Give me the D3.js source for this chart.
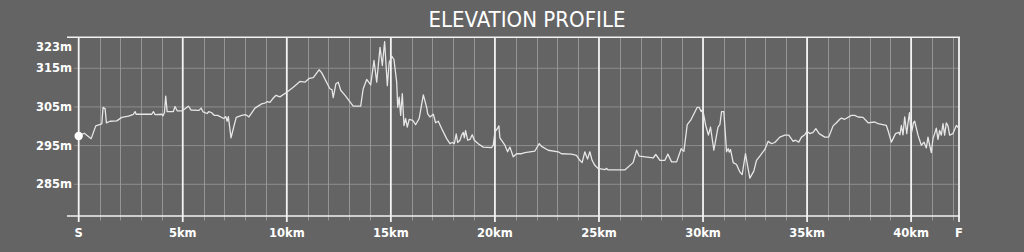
<!DOCTYPE html>
<html><head><meta charset="utf-8">
<script src="https://cdn.jsdelivr.net/npm/d3@7"></script>
<style>
html,body{margin:0;padding:0;background:#646464;}
svg{display:block;}
</style></head>
<body>
<svg id="chart" width="1024" height="252"></svg>
<script>
const title = "ELEVATION PROFILE";
const distanceKm = [0.0,0.27,0.60,0.82,1.11,1.17,1.27,1.33,1.51,1.83,2.07,2.39,2.63,2.71,2.76,3.51,3.59,3.67,3.99,4.05,4.12,4.18,4.25,4.55,4.63,4.73,4.98,5.27,5.40,5.78,5.88,5.98,6.17,6.26,6.39,6.52,6.68,6.97,7.07,7.13,7.19,7.32,7.43,7.57,7.83,8.03,8.18,8.47,8.79,8.95,9.06,9.19,9.32,9.48,9.67,10.00,10.31,10.63,10.87,11.08,11.27,11.55,11.68,12.07,12.17,12.23,12.36,12.47,12.59,12.80,13.19,13.55,13.67,13.84,14.03,14.19,14.32,14.48,14.59,14.70,14.83,14.92,15.05,15.15,15.28,15.33,15.40,15.47,15.55,15.63,15.71,15.79,15.88,16.05,16.19,16.36,16.56,16.72,16.77,16.88,17.04,17.15,17.28,17.44,17.68,17.84,17.95,18.05,18.14,18.21,18.32,18.40,18.48,18.53,18.59,18.69,18.80,18.91,19.01,19.20,19.44,19.84,19.92,20.00,20.13,20.19,20.24,20.48,20.61,20.72,20.88,21.04,21.28,21.44,21.92,22.13,22.24,22.56,23.04,23.20,23.68,23.92,24.08,24.19,24.32,24.45,24.56,24.67,24.80,24.96,25.28,25.37,25.44,26.24,26.64,26.81,26.93,27.60,27.73,27.93,28.17,28.31,28.49,28.73,28.95,29.08,29.24,29.40,29.59,29.72,29.81,29.91,29.98,30.13,30.26,30.36,30.52,30.72,30.81,30.89,31.00,31.13,31.21,31.26,31.32,31.45,31.61,31.77,31.88,32.04,32.15,32.25,32.44,32.57,32.73,32.97,33.13,33.29,33.45,33.69,33.93,34.12,34.33,34.44,34.60,34.73,34.89,34.99,35.13,35.29,35.42,35.58,35.85,36.04,36.25,36.41,36.57,36.65,36.81,37.13,37.29,37.45,37.69,37.93,38.25,38.41,38.81,38.89,39.05,39.25,39.41,39.46,39.53,39.61,39.69,39.79,39.85,39.92,40.00,40.04,40.11,40.17,40.33,40.49,40.62,40.73,40.81,40.89,40.97,41.05,41.13,41.21,41.29,41.37,41.45,41.53,41.61,41.69,41.77,41.85,42.01,42.17,42.28];
const elevationM = [297.5,298.2,296.8,300.1,300.6,304.9,304.5,300.9,301.3,301.4,302.3,302.6,303.1,303.8,303.1,303.1,303.8,303.0,303.1,302.7,303.5,307.8,303.8,303.8,305.1,304.0,304.0,305.2,304.2,304.1,304.7,303.7,303.3,303.8,303.5,302.8,302.8,302.0,302.5,301.3,302.5,297.0,299.4,302.3,302.8,303.0,302.4,304.7,305.8,306.0,306.4,306.2,307.1,308.0,307.6,308.8,310.1,311.6,311.4,312.4,312.6,314.6,313.8,309.7,309.5,307.4,311.0,311.4,309.3,308.0,305.2,305.2,309.7,312.1,310.7,317.0,311.4,320.4,315.7,321.9,310.5,316.5,318.1,317.2,311.4,304.9,307.5,302.8,308.4,300.2,302.0,299.8,301.8,301.5,300.4,302.0,308.1,304.9,303.2,302.4,303.1,300.9,301.3,299.4,296.8,295.5,295.8,295.5,298.0,295.8,296.4,297.7,298.4,297.0,298.9,296.4,296.6,297.8,296.4,295.5,294.6,294.5,295.1,298.5,299.5,300.1,297.0,295.1,293.4,294.6,292.1,292.9,292.9,293.2,293.6,295.5,294.8,293.8,293.4,292.9,292.8,292.5,291.2,290.6,293.4,291.5,293.4,291.2,289.9,289.1,288.8,289.1,288.7,288.7,290.6,293.8,292.3,291.8,292.7,291.2,291.2,292.8,290.8,290.8,294.2,293.5,300.4,301.5,303.5,304.9,304.9,303.8,304.4,300.2,297.7,299.8,293.8,299.8,300.4,303.8,303.8,293.4,294.2,293.3,294.0,290.6,290.1,288.2,287.5,292.9,289.5,286.6,288.4,291.2,292.3,294.0,296.1,295.5,295.8,297.2,297.7,297.7,296.1,296.4,295.9,297.2,297.8,298.7,298.1,298.4,299.4,298.1,297.2,297.2,300.1,300.9,301.8,302.1,301.8,302.8,302.8,302.4,302.3,300.9,301.1,300.7,300.2,298.9,295.9,298.1,298.4,297.8,300.2,297.8,302.4,298.1,300.9,303.5,298.1,298.9,300.9,301.3,297.7,295.1,295.9,294.4,297.2,295.1,293.2,296.8,298.1,299.5,296.6,298.9,297.7,300.7,297.7,300.9,300.1,297.7,298.1,300.2,299.6];
const yGridValues = [285, 295, 305, 315];
const yTopValue = 323;
const yMinValue = 276.8;
const finishKm = 42.3;
const xMajorValues = [0, 5, 10, 15, 20, 25, 30, 35, 40, 42.3];
const xMajorLabels = ["S", "5km", "10km", "15km", "20km", "25km", "30km", "35km", "40km", "F"];
const xMinorValues = d3.range(1, 43).filter(v => v % 5 !== 0);

(function () {
const svg = d3.select("#chart");
const pLeft = 78.7, pRight = 959, pTop = 37.3, pBottom = 216;
const x = d3.scaleLinear().domain([0, finishKm]).range([pLeft, pRight]);
const y = d3.scaleLinear().domain([yMinValue, yTopValue]).range([pBottom, pTop]);

svg.append("rect").attr("width", 1024).attr("height", 252).attr("fill", "#646464");

svg.append("text").attr("x", 527).attr("y", 26.5).attr("text-anchor", "middle")
  .attr("fill", "#fff")
  .style("font-family", "'DejaVu Sans Condensed','Liberation Sans Narrow',sans-serif")
  .style("font-stretch", "condensed")
  .style("font-size", "20.5px")
  .attr("textLength", 197).attr("lengthAdjust", "spacingAndGlyphs")
  .text(title);

svg.append("g").selectAll("line").data(yGridValues).join("line")
  .attr("x1", 74).attr("x2", pRight).attr("y1", d => y(d)).attr("y2", d => y(d))
  .attr("stroke", "#8e8e8e").attr("stroke-width", 1);

svg.append("g").selectAll("line").data(xMinorValues).join("line")
  .attr("x1", d => Math.round(x(d)) + 0.5).attr("x2", d => Math.round(x(d)) + 0.5)
  .attr("y1", pTop).attr("y2", 220.5)
  .attr("stroke", "#959595").attr("stroke-width", 1);

svg.append("line").attr("x1", 67).attr("x2", pRight + 1).attr("y1", pTop).attr("y2", pTop)
  .attr("stroke", "#f2f2f2").attr("stroke-width", 1.6);
svg.append("line").attr("x1", 67).attr("x2", pRight + 1).attr("y1", pBottom).attr("y2", pBottom)
  .attr("stroke", "#f2f2f2").attr("stroke-width", 1.6);

svg.append("g").selectAll("line").data(xMajorValues).join("line")
  .attr("x1", d => x(d)).attr("x2", d => x(d))
  .attr("y1", pTop).attr("y2", 222)
  .attr("stroke", "#f4f4f4").attr("stroke-width", 1.8);

const labelFont = "'DejaVu Sans',sans-serif";
svg.append("g").selectAll("text").data(xMajorValues).join("text")
  .attr("x", d => x(d)).attr("y", 237.3).attr("text-anchor", "middle")
  .attr("fill", "#fff").style("font-family", labelFont).style("font-weight", "bold").style("font-size", "11.5px")
  .text((d, i) => xMajorLabels[i]);

svg.append("g").selectAll("text").data(yGridValues).join("text")
  .attr("x", 72).attr("y", d => y(d)).attr("dy", "0.36em").attr("text-anchor", "end")
  .attr("fill", "#fff").style("font-family", labelFont).style("font-weight", "bold").style("font-size", "11.5px")
  .text(d => d + "m");
svg.append("text").attr("x", 72).attr("y", y(yTopValue) + 9.4).attr("dy", "0.36em").attr("text-anchor", "end")
  .attr("fill", "#fff").style("font-family", labelFont).style("font-weight", "bold").style("font-size", "11.5px")
  .text(yTopValue + "m");

const pts = distanceKm.map((d, i) => [d, elevationM[i]]);
svg.append("path").datum(pts)
  .attr("d", d3.line().x(d => x(d[0])).y(d => y(d[1])))
  .attr("fill", "none").attr("stroke", "#e6e6e6").attr("stroke-width", 1.3).attr("stroke-linejoin", "round");

svg.append("circle").attr("cx", x(distanceKm[0])).attr("cy", y(elevationM[0])).attr("r", 4.2).attr("fill", "#fff");
})();
</script>
</body></html>
